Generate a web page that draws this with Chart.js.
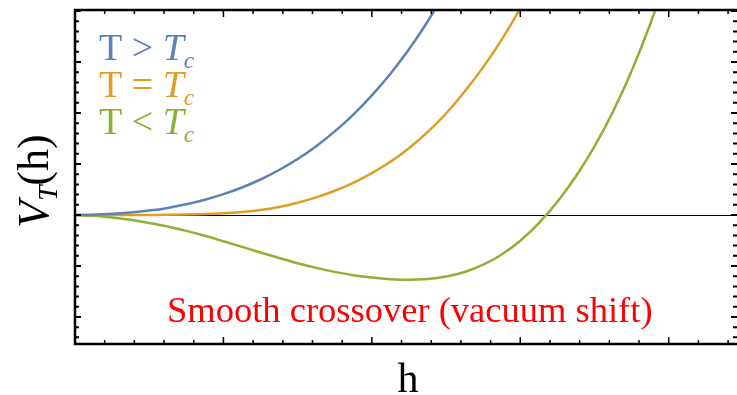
<!DOCTYPE html>
<html>
<head>
<meta charset="utf-8">
<script src="https://cdn.jsdelivr.net/npm/chart.js@4.4.1/dist/chart.umd.min.js"></script>
<style>
  html, body { margin: 0; padding: 0; background: #fff; }
</style>
</head>
<body>
<canvas id="potentialChart" width="737" height="395"></canvas>
<script>
// h grid and potential values
const hValues = [0, 0.125, 0.25, 0.375, 0.5, 0.625, 0.75, 0.875, 1.0, 1.125, 1.25, 1.375, 1.5, 1.625, 1.75, 1.875,
                 2.0, 2.125, 2.25, 2.375, 2.5, 2.625, 2.75, 2.875, 3.0, 3.125, 3.25, 3.375, 3.5, 3.625, 3.75, 3.875, 4.0];
// T > Tc
const vAbove = [0, 0.006, 0.022, 0.048, 0.086, 0.139, 0.209, 0.298, 0.408, 0.539, 0.696, 0.882, 1.098, 1.35, 1.64, 1.97,
                2.345, 2.77, 3.25, 3.79, 4.4];
// T = Tc
const vCritical = [0, 0, 0, 0, 0.001, 0.003, 0.008, 0.018, 0.033, 0.058, 0.097, 0.158, 0.241, 0.345, 0.475, 0.631,
                   0.82, 1.043, 1.31, 1.625, 1.99, 2.42, 2.9, 3.44, 4.05, 4.73];
// T < Tc
const vBelow = [0, -0.016, -0.047, -0.092, -0.157, -0.227, -0.312, -0.408, -0.516, -0.625, -0.735, -0.843, -0.947, -1.037, -1.116, -1.18,
                -1.227, -1.259, -1.271, -1.255, -1.206, -1.118, -0.975, -0.775, -0.505, -0.16, 0.26, 0.76, 1.345, 2.03, 2.825, 3.74, 4.785];

const seriesRelations = ['>', '=', '<'];
const seriesColors = ['#5E81B5', '#E19C24', '#8FB032'];
const xMajorTicks = [0, 1, 2, 3, 4];
const yMajorTicks = [-2, -1, 0, 1, 2, 3, 4];
const annotation = 'Smooth crossover (vacuum shift)';

const SERIF = '"Liberation Serif", "DejaVu Serif", serif';

function toPoints(vals) {
    return vals.map((v, i) => ({ x: hValues[i], y: v }));
}

function drawRich(ctx, x, y, parts, size) {
    for (const p of parts) {
        const s = p.sub ? size * 0.62 : size;
        ctx.font = (p.italic ? 'italic ' : '') + s + 'px ' + SERIF;
        ctx.fillText(p.text, x, y + (p.sub ? size * 0.2 : 0));
        x += ctx.measureText(p.text).width;
    }
}

function richWidth(ctx, parts, size) {
    let w = 0;
    for (const p of parts) {
        const s = p.sub ? size * 0.62 : size;
        ctx.font = (p.italic ? 'italic ' : '') + s + 'px ' + SERIF;
        w += ctx.measureText(p.text).width;
    }
    return w;
}

// frame, inward ticks, zero line, labels
const framePlugin = {
    id: 'framePlugin',
    beforeDatasetsDraw(chart) {
        const { ctx, chartArea: a, scales: { y } } = chart;
        const y0 = Math.round(y.getPixelForValue(0)) + 0.5;
        ctx.save();
        ctx.strokeStyle = '#000';
        ctx.lineWidth = 1;
        ctx.beginPath();
        ctx.moveTo(a.left, y0);
        ctx.lineTo(a.right, y0);
        ctx.stroke();
        ctx.restore();
    },
    afterDatasetsDraw(chart) {
        const { ctx, chartArea: a, scales: { x, y } } = chart;
        ctx.save();
        ctx.strokeStyle = '#000';
        ctx.lineWidth = 2.5;
        ctx.beginPath();
        ctx.moveTo(a.right, a.top); ctx.lineTo(a.left, a.top);
        ctx.lineTo(a.left, a.bottom); ctx.lineTo(a.right, a.bottom);
        ctx.stroke();

        ctx.lineWidth = 1.5;
        const step = 0.2;
        // x ticks
        for (let i = 0; i < xMajorTicks.length; i++) {
            for (let k = 0; k < 5; k++) {
                const v = xMajorTicks[i] + k * step;
                if (v > x.max) break;
                const px = x.getPixelForValue(v);
                const len = k === 0 ? 7 : 4;
                ctx.beginPath();
                ctx.moveTo(px, a.bottom); ctx.lineTo(px, a.bottom - len);
                ctx.moveTo(px, a.top); ctx.lineTo(px, a.top + len);
                ctx.stroke();
            }
        }
        // y ticks
        ctx.lineWidth = 2;
        for (let i = -1; i < yMajorTicks.length; i++) {
            const base = i < 0 ? yMajorTicks[0] - 1 : yMajorTicks[i];
            for (let k = 0; k < 5; k++) {
                const v = base + k * step;
                if (v < y.min || v > y.max) continue;
                const py = y.getPixelForValue(v);
                const len = k === 0 ? 6 : 4;
                ctx.beginPath();
                ctx.moveTo(a.left, py); ctx.lineTo(a.left + len, py);
                ctx.moveTo(a.right, py); ctx.lineTo(a.right - len, py);
                ctx.stroke();
            }
        }

        // series labels
        ctx.textAlign = 'left';
        ctx.textBaseline = 'alphabetic';
        seriesRelations.forEach((rel, i) => {
            ctx.fillStyle = seriesColors[i];
            drawRich(ctx, 99, 60 + i * 37, [
                { text: 'T ' + rel + ' ' },
                { text: 'T', italic: true },
                { text: 'c', italic: true, sub: true }
            ], 38);
        });

        // annotation
        ctx.fillStyle = '#ff0000';
        ctx.font = '36.5px ' + SERIF;
        ctx.fillText(annotation, 167, 322);

        // axis titles
        ctx.fillStyle = '#000';
        ctx.font = '42px ' + SERIF;
        ctx.textAlign = 'center';
        ctx.fillText('h', (a.left + a.right) / 2 + 2, 392);

        ctx.textAlign = 'left';
        const yParts = [
            { text: 'V', italic: true },
            { text: 'T', italic: true, sub: true },
            { text: '(h)' }
        ];
        const w = richWidth(ctx, yParts, 44);
        ctx.translate(48, 181);
        ctx.rotate(-Math.PI / 2);
        drawRich(ctx, -w / 2, 0, yParts, 44);
        ctx.restore();
    }
};

new Chart(document.getElementById('potentialChart').getContext('2d'), {
    type: 'line',
    data: {
        datasets: [
            { data: toPoints(vAbove), borderColor: seriesColors[0] },
            { data: toPoints(vCritical), borderColor: seriesColors[1] },
            { data: toPoints(vBelow), borderColor: seriesColors[2] }
        ]
    },
    options: {
        responsive: false,
        animation: false,
        parsing: false,
        layout: { padding: { left: 75, top: 10, right: 0, bottom: 51 } },
        elements: {
            point: { radius: 0 },
            line: { borderWidth: 2.5, cubicInterpolationMode: 'monotone', fill: false }
        },
        plugins: {
            legend: { display: false },
            tooltip: { enabled: false }
        },
        scales: {
            x: { type: 'linear', min: 0, max: 4.46, display: false },
            y: { type: 'linear', min: -2.53, max: 4.02, display: false }
        }
    },
    plugins: [framePlugin]
});
</script>
</body>
</html>
